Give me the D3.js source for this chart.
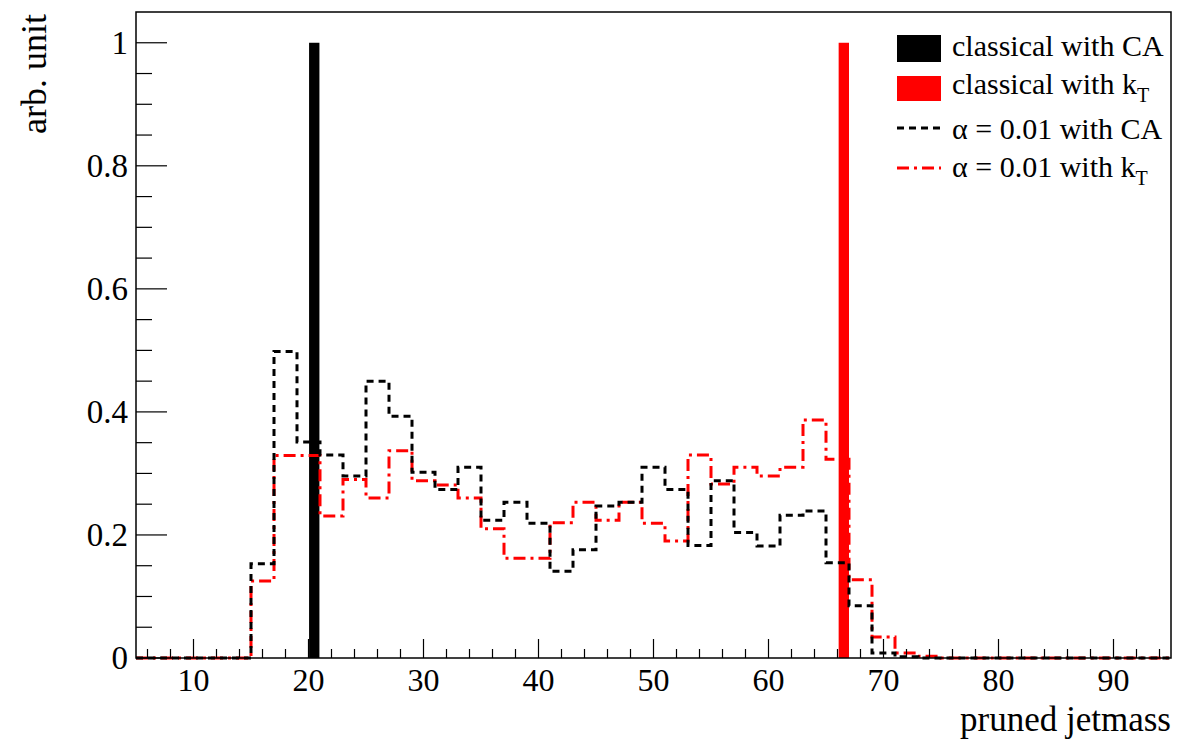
<!DOCTYPE html>
<html>
<head>
<meta charset="utf-8">
<script src="https://cdn.jsdelivr.net/npm/d3@7"></script>
<style>
  html, body { margin: 0; padding: 0; background: #fff; }
  svg { display: block; }
  text { font-family: "Liberation Serif", "Times New Roman", Times, serif; fill: #000; }
</style>
</head>
<body>
<svg id="chart" width="1182" height="740"></svg>
<script>
// Histogram binning: 45 bins of width 2 GeV from 5 to 95
const binLow = 5;
const binHigh = 95;
const binWidth = 2;

// alpha = 0.01 pruning, Cambridge/Aachen clustering (per-bin content)
const alphaCA = [
  0, 0, 0, 0, 0,
  0.153, 0.498, 0.351, 0.330, 0.296,
  0.450, 0.393, 0.302, 0.274, 0.310,
  0.224, 0.253, 0.219, 0.141, 0.176,
  0.247, 0.253, 0.310, 0.274, 0.183,
  0.288, 0.204, 0.182, 0.232, 0.239,
  0.155, 0.085, 0.008, 0.002, 0,
  0, 0, 0, 0, 0,
  0, 0, 0, 0, 0
];

// alpha = 0.01 pruning, kT clustering (per-bin content)
const alphaKT = [
  0, 0, 0, 0, 0,
  0.125, 0.329, 0.329, 0.231, 0.290,
  0.260, 0.337, 0.288, 0.281, 0.260,
  0.210, 0.162, 0.162, 0.220, 0.253,
  0.224, 0.253, 0.219, 0.190, 0.330,
  0.283, 0.310, 0.296, 0.310, 0.387,
  0.323, 0.127, 0.034, 0.008, 0.003,
  0, 0, 0, 0, 0,
  0, 0, 0, 0, 0
];

// Classical pruning gives a single jet mass value (normalised to 1)
const classicalCA = { massLow: 20.05, massHigh: 20.95, value: 1 };
const classicalKT = { massLow: 66.1, massHigh: 67.0, value: 1 };

// Axis ticks
const xMajorTicks = [10, 20, 30, 40, 50, 60, 70, 80, 90];
const yMajorTicks = [0, 0.2, 0.4, 0.6, 0.8, 1];
const yTickLabels = ["0", "0.2", "0.4", "0.6", "0.8", "1"];

const svg = d3.select("#chart");
const frame = { left: 136, right: 1171, top: 12, bottom: 658 };

const x = d3.scaleLinear().domain([binLow, binHigh]).range([frame.left, frame.right]);
const y = d3.scaleLinear().domain([0, 1.05]).range([frame.bottom, frame.top]);

const edges = d3.range(binLow, binHigh + binWidth / 2, binWidth);

function stepPoints(values) {
  const pts = values.map((v, i) => [edges[i], v]);
  pts.push([edges[values.length], values[values.length - 1]]);
  return pts;
}
const stepLine = d3.line()
  .x(d => x(d[0]))
  .y(d => y(d[1]))
  .curve(d3.curveStepAfter);

// Classical results as filled bins
const bars = [
  { d: classicalCA, color: "#000" },
  { d: classicalKT, color: "#ff0000" }
];
svg.append("g").selectAll("rect").data(bars).join("rect")
  .attr("x", b => x(b.d.massLow))
  .attr("width", b => x(b.d.massHigh) - x(b.d.massLow))
  .attr("y", b => y(b.d.value))
  .attr("height", b => y(0) - y(b.d.value))
  .attr("fill", b => b.color);

// alpha-pruned distributions as step outlines
svg.append("path")
  .attr("d", stepLine(stepPoints(alphaKT)))
  .attr("fill", "none")
  .attr("stroke", "#ff0000")
  .attr("stroke-width", 3)
  .attr("stroke-dasharray", "12 5 3 5");

svg.append("path")
  .attr("d", stepLine(stepPoints(alphaCA)))
  .attr("fill", "none")
  .attr("stroke", "#000")
  .attr("stroke-width", 3)
  .attr("stroke-dasharray", "7 5");

// Frame
svg.append("rect")
  .attr("x", frame.left).attr("y", frame.top)
  .attr("width", frame.right - frame.left)
  .attr("height", frame.bottom - frame.top)
  .attr("fill", "none")
  .attr("stroke", "#000")
  .attr("stroke-width", 1.5);

// X axis: ticks drawn inside the frame
const xAxis = svg.append("g");
const xMinor = d3.range(6, 95, 2).filter(v => v % 10 !== 0);
xAxis.selectAll("line.minor").data(xMinor).join("line")
  .attr("x1", d => x(d)).attr("x2", d => x(d))
  .attr("y1", frame.bottom).attr("y2", frame.bottom - 9)
  .attr("stroke", "#000").attr("stroke-width", 1.2);
xAxis.selectAll("line.major").data(xMajorTicks).join("line")
  .attr("x1", d => x(d)).attr("x2", d => x(d))
  .attr("y1", frame.bottom).attr("y2", frame.bottom - 19)
  .attr("stroke", "#000").attr("stroke-width", 1.2);
xAxis.selectAll("text").data(xMajorTicks).join("text")
  .attr("x", d => x(d))
  .attr("y", 691)
  .attr("text-anchor", "middle")
  .attr("font-size", 32)
  .text(d => d);

// Y axis
const yAxis = svg.append("g");
const yMinor = d3.range(0.05, 1.05, 0.05).filter(v => Math.abs(v * 5 - Math.round(v * 5)) > 1e-6);
yAxis.selectAll("line.minor").data(yMinor).join("line")
  .attr("x1", frame.left).attr("x2", frame.left + 16)
  .attr("y1", d => y(d)).attr("y2", d => y(d))
  .attr("stroke", "#000").attr("stroke-width", 1.2);
yAxis.selectAll("line.major").data(yMajorTicks).join("line")
  .attr("x1", frame.left).attr("x2", frame.left + 31)
  .attr("y1", d => y(d)).attr("y2", d => y(d))
  .attr("stroke", "#000").attr("stroke-width", 1.2);
yAxis.selectAll("text").data(yMajorTicks).join("text")
  .attr("x", 128)
  .attr("y", d => y(d))
  .attr("dy", "0.34em")
  .attr("text-anchor", "end")
  .attr("font-size", 33)
  .text((d, i) => yTickLabels[i]);

// Axis titles
svg.append("text")
  .attr("x", frame.right)
  .attr("y", 731)
  .attr("text-anchor", "end")
  .attr("font-size", 35)
  .text("pruned jetmass");

svg.append("text")
  .attr("transform", `translate(46, ${frame.top + 2}) rotate(-90)`)
  .attr("text-anchor", "end")
  .attr("font-size", 36)
  .text("arb. unit");

// Legend
const legend = svg.append("g");
const legendX0 = 897, legendX1 = 941, textX = 952;
const entries = [
  { type: "box", color: "#000", yTop: 35, yBot: 62, base: 56, label: "classical with CA", sub: null },
  { type: "box", color: "#ff0000", yTop: 76, yBot: 101, base: 94, label: "classical with k", sub: "T" },
  { type: "line", color: "#000", dash: "7 5", yLine: 128, base: 139, label: "\u03b1 = 0.01 with CA", sub: null },
  { type: "line", color: "#ff0000", dash: "12 5 3 5", yLine: 168, base: 177, label: "\u03b1 = 0.01 with k", sub: "T" }
];
entries.forEach(e => {
  if (e.type === "box") {
    legend.append("rect")
      .attr("x", legendX0).attr("y", e.yTop)
      .attr("width", legendX1 - legendX0).attr("height", e.yBot - e.yTop)
      .attr("fill", e.color);
  } else {
    legend.append("line")
      .attr("x1", legendX0).attr("x2", legendX1)
      .attr("y1", e.yLine).attr("y2", e.yLine)
      .attr("stroke", e.color).attr("stroke-width", 3)
      .attr("stroke-dasharray", e.dash);
  }
  const t = legend.append("text")
    .attr("x", textX).attr("y", e.base)
    .attr("font-size", 30)
    .text(e.label);
  if (e.sub) {
    t.append("tspan").attr("font-size", 20).attr("dy", 8).text(e.sub);
  }
});
</script>
</body>
</html>
